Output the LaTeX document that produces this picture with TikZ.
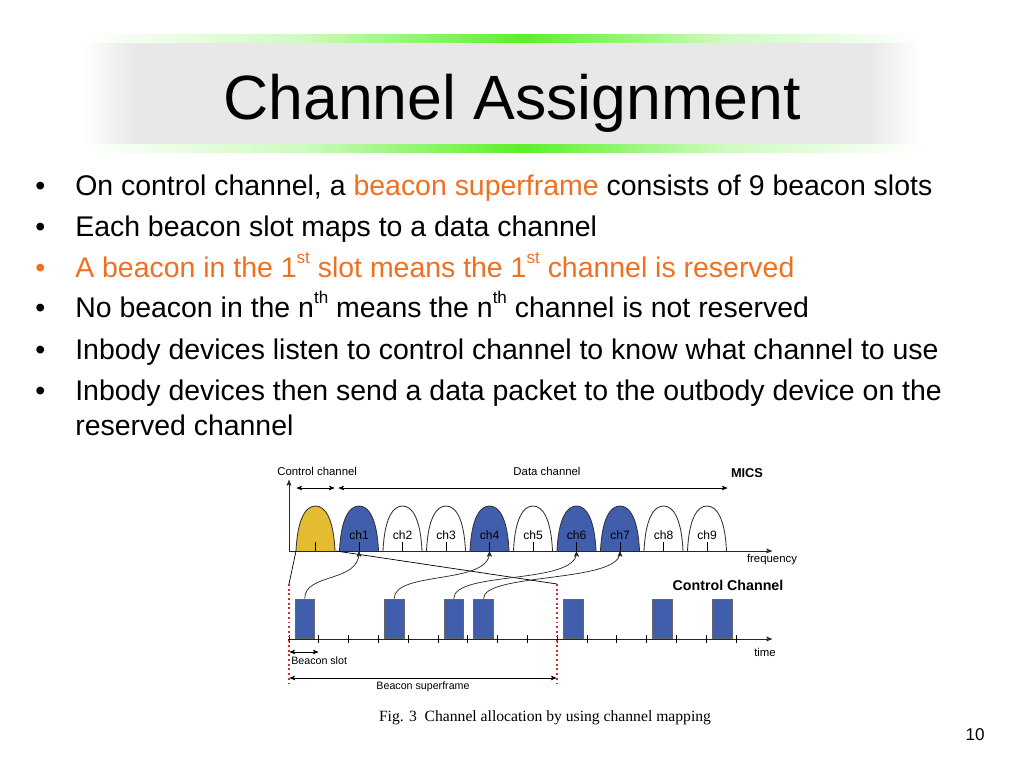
\documentclass[tikz,border=0pt]{standalone}
\usepackage{fontspec}
\setmainfont{Liberation Sans}
\newfontfamily\capfont{Liberation Serif}
\usepackage{tikz}
\usetikzlibrary{positioning,arrows,calc}
\definecolor{beaconblue}{RGB}{64,94,172}
\definecolor{ctrlyellow}{RGB}{228,188,48}
\definecolor{hiorange}{RGB}{240,112,32}
\definecolor{slotred}{RGB}{205,45,45}
\definecolor{bargreen}{RGB}{90,240,40}
\newcommand\sups[1]{\raisebox{0.5em}{\fontsize{12}{12}\selectfont #1}}
\tikzset{px/.style={x=0.703125pt,y=-0.703125pt},
    item/.style={anchor=base west,inner sep=0pt,font=\fontsize{20}{24}\selectfont},
    figtext/.style={inner sep=0pt,font=\fontsize{8}{10}\selectfont},
    figbold/.style={inner sep=0pt,font=\bfseries\fontsize{9}{11}\selectfont},
    hump/.style={draw=black!80,line width=0.6pt},
    beacon/.style={draw=black!60,fill=beaconblue,inner sep=0pt,minimum width=14pt,minimum height=28pt,anchor=south west},
    axis/.style={->,>=stealth',line width=0.5pt,black!85},
    span/.style={<->,>=stealth',line width=0.4pt,shorten >=0.5pt,shorten <=0.5pt},
    map/.style={->,>=stealth',line width=0.5pt,black!85},
    guide/.style={slotred,dotted,line width=1.3pt}}

\begin{document}
\begin{tikzpicture}[px]
\useasboundingbox (0,0) rectangle (1024,768);
% title banner
\shade[left color=white,right color=black!9] (82,35) rectangle (135,153);
\fill[black!9] (135,35) rectangle (868,153);
\shade[left color=black!9,right color=white] (868,35) rectangle (921,153);
\shade[left color=white,right color=bargreen,middle color=bargreen!30] (82,35) rectangle (523,43);
\shade[left color=bargreen,right color=white,middle color=bargreen!30] (523,35) rectangle (921,43);
\shade[left color=white,right color=bargreen,middle color=bargreen!30] (82,145) rectangle (523,153);
\shade[left color=bargreen,right color=white,middle color=bargreen!30] (523,145) rectangle (921,153);
\node[anchor=base,inner sep=0pt,font=\fontsize{44}{50}\selectfont] (title) at (512,120) {Channel Assignment};

% bullet list
\foreach \y/\c in {196/black,237/black,278/hiorange,318/black,359/black,400/black}
    \node[item,text=\c] (bu\y) at (35,\y) {\textbullet};
\node[item] (l1) at (75,196) {On control channel, a \textcolor{hiorange}{beacon superframe} consists of 9 beacon slots};
\node[item] (l2) at (75,237) {Each beacon slot maps to a data channel};
\node[item,text=hiorange] (l3) at (75,278) {A beacon in the 1\sups{st} slot means the 1\sups{st} channel is reserved};
\node[item] (l4) at (75,318) {No beacon in the n\sups{th} means the n\sups{th} channel is not reserved};
\node[item] (l5) at (75,359) {Inbody devices listen to control channel to know what channel to use};
\node[item] (l6) at (75,400) {Inbody devices then send a data packet to the outbody device on the};
\node[item] (l7) at (75,435) {reserved channel};

% spectrum
\foreach \i/\col in {0/ctrlyellow,1/beaconblue,2/white,3/white,4/beaconblue,5/white,6/beaconblue,7/beaconblue,8/white,9/white}{
    \pgfmathsetmacro\hl{296+43.5*\i}
    \filldraw[hump,fill=\col] (\hl,551) .. controls ({\hl+1.5},518) and ({\hl+10},506) .. ({\hl+19.5},506)
        .. controls ({\hl+29},506) and ({\hl+37.5},518) .. ({\hl+39},551);
    \draw[line width=0.5pt] ({\hl+19.5},542) -- ({\hl+19.5},551);
    \coordinate (c\i) at ({\hl+19.5},551);
}
\foreach \i in {1,...,9}
    \node[figtext,font=\fontsize{8.5}{10}\selectfont] (ch\i) at ($(c\i)+(0,-16)$) {ch\i};
\coordinate (o) at (289,551);
\coordinate (ftop) at (289,480);
\coordinate (fend) at (772,551);
\draw[axis] (o) -- (ftop);
\draw[axis] (o) -- (fend);
\node[figtext] (freq) at (772,560) {frequency};

\coordinate (cc1) at (296,488);
\coordinate (cc2) at (335,488);
\coordinate (dc1) at (338,488);
\coordinate (dc2) at (728,488);
\draw[span] (cc1) -- (cc2);
\draw[span] (dc1) -- (dc2);
\node[figtext,anchor=west] (ctrllbl) at (277,471) {Control channel};
\node[figtext] (datalbl) at (547,471) {Data channel};
\node[figbold] (mics) at (747,473) {MICS};

% control channel in time
\coordinate (t0) at (288,639);
\coordinate (tend) at (772,639);
\draw[axis] (t0) -- (tend);
\foreach \k in {0,...,15}
    \draw[line width=0.5pt] ({289+29.8*\k},635) -- ({289+29.8*\k},643);
\node[figtext] (timelbl) at (765,652) {time};
\node[figbold,font=\bfseries\fontsize{10}{12}\selectfont] (ctrlch) at (728,585) {Control Channel};
\foreach \n/\s in {1/0,2/3,3/5,4/6,5/9,6/12,7/14}
    \node[beacon] (b\n) at ({289+29.8*\s+5.5},639) {};

% superframe guides
\coordinate (yl) at (296,551);
\coordinate (yr) at (336,551);
\coordinate (gl) at (289,584);
\coordinate (gr) at (557,584);
\coordinate (gl2) at (289,686);
\coordinate (gr2) at (557,686);
\draw[line width=0.5pt] (yl) -- (gl);
\draw[line width=0.5pt] (yr) -- (gr);
\draw[guide] (gl) -- (gl2);
\draw[guide] (gr) -- (gr2);

% slot to channel mapping
\draw[map] (b1.north) .. controls +(0,-26) and +(0,32) .. (c1);
\draw[map] (b2.north) .. controls +(0,-28) and +(0,34) .. (c4);
\draw[map] (b3.north) .. controls +(0,-28) and +(0,34) .. (c6);
\draw[map] (b4.north) .. controls +(0,-26) and +(0,32) .. (c7);

% slot and superframe spans
\coordinate (bs1) at (289,652);
\coordinate (bs2) at (319,652);
\coordinate (sf1) at (289,678);
\coordinate (sf2) at (557,678);
\draw[span] (bs1) -- (bs2);
\draw[span] (sf1) -- (sf2);
\node[figtext,font=\fontsize{7.5}{9}\selectfont,anchor=west] (slotlbl) at (291,661) {Beacon slot};
\node[figtext,font=\fontsize{7.5}{9}\selectfont] (sflbl) at (423,687) {Beacon superframe};

% caption and page number
\node[inner sep=0pt,font=\capfont\fontsize{11}{13}\selectfont] (caption) at (545,718) {Fig. 3\enspace Channel allocation by using channel mapping};
\node[inner sep=0pt,font=\fontsize{12}{14}\selectfont] (pageno) at (975,735) {10};
\end{tikzpicture}
\end{document}
